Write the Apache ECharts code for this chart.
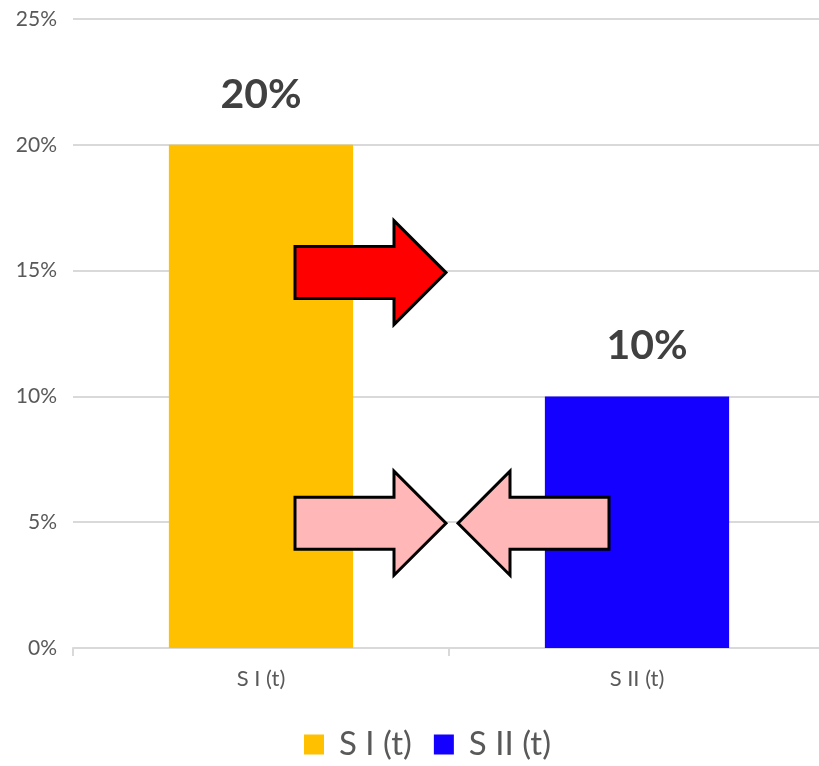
<!DOCTYPE html>
<html><head><meta charset="utf-8">
<script src="https://cdn.jsdelivr.net/npm/echarts@6/dist/echarts.min.js"></script>
<style>html,body{margin:0;padding:0;background:#fff}#c{width:819px;height:766px}</style>
</head><body><div id="c"></div>
<script>
const categories = ['S I (t)', 'S II (t)'];
const seriesNames = ['S I (t)', 'S II (t)'];
const seriesI = [20, null];
const seriesII = [null, 10];
const yTicks = [0, 5, 10, 15, 20, 25];
const colors = ['#FFC000', '#1400FF'];

const chart = echarts.init(document.getElementById('c'));
const FONT = 'Lato, "Liberation Sans", sans-serif';
const lbl = (dx) => ({
  show: true, position: 'top', distance: 30, offset: [dx, 0],
  formatter: p => p.value + '%',
  fontFamily: FONT, fontWeight: 'bold', fontSize: 41, color: '#404040'
});
chart.setOption({
  animation: false,
  grid: { left: 73, width: 752, top: 19, bottom: 118, containLabel: false, outerBoundsMode: 'none' },
  legend: {
    bottom: 0, left: 299, itemWidth: 20, itemHeight: 20, itemGap: 22,
    icon: 'rect',
    textStyle: { fontFamily: FONT, fontSize: 33, color: '#595959', padding: [0, 0, 0, 10] },
    data: seriesNames
  },
  xAxis: {
    type: 'category', data: categories,
    axisLine: { lineStyle: { color: '#d9d9d9', width: 2 } },
    axisTick: { show: true, length: 8, lineStyle: { color: '#d9d9d9', width: 2 } },
    axisLabel: { fontFamily: FONT, fontSize: 22, color: '#595959', margin: 20 }
  },
  yAxis: {
    type: 'value', min: yTicks[0], max: yTicks[yTicks.length - 1], interval: 5,
    axisLine: { show: false }, axisTick: { show: false },
    splitLine: { lineStyle: { color: '#d9d9d9', width: 2 } },
    axisLabel: { formatter: '{value}%', fontFamily: FONT, fontSize: 21, color: '#595959', margin: 16 }
  },
  series: [
    { name: seriesNames[0], type: 'bar', data: seriesI, barWidth: '49%', barGap: '-100%',
      itemStyle: { color: colors[0] }, label: lbl(0) },
    { name: seriesNames[1], type: 'bar', data: seriesII, barWidth: '49%', barGap: '-100%',
      itemStyle: { color: colors[1] }, label: lbl(10) }
  ]
});

function arrow(x0, tip, xh, yc, bh, hh) {
  return [[x0, yc - bh], [xh, yc - bh], [xh, yc - hh], [tip, yc], [xh, yc + hh], [xh, yc + bh], [x0, yc + bh]];
}
const c0 = chart.convertToPixel({ xAxisIndex: 0 }, 0);
const c1 = chart.convertToPixel({ xAxisIndex: 0 }, 1);
const mid = (c0 + c1) / 2;
const y15 = chart.convertToPixel({ yAxisIndex: 0 }, 15) + 2;
const y5 = chart.convertToPixel({ yAxisIndex: 0 }, 5) + 1;
const sty = (fill) => ({ fill: fill, stroke: '#000', lineWidth: 3, lineJoin: 'miter' });
chart.setOption({
  graphic: [
    { type: 'polygon', shape: { points: arrow(c0 + 34, mid - 3, c0 + 133, y15, 26, 52) }, style: sty('#FF0000'), z: 100 },
    { type: 'polygon', shape: { points: arrow(c0 + 34, mid - 3, c0 + 133, y5, 26, 52) }, style: sty('#FFB7B7'), z: 100 },
    { type: 'polygon', shape: { points: arrow(c1 - 28, mid + 9, c1 - 127, y5, 26, 52) }, style: sty('#FFB7B7'), z: 100 }
  ]
});
</script></body></html>
